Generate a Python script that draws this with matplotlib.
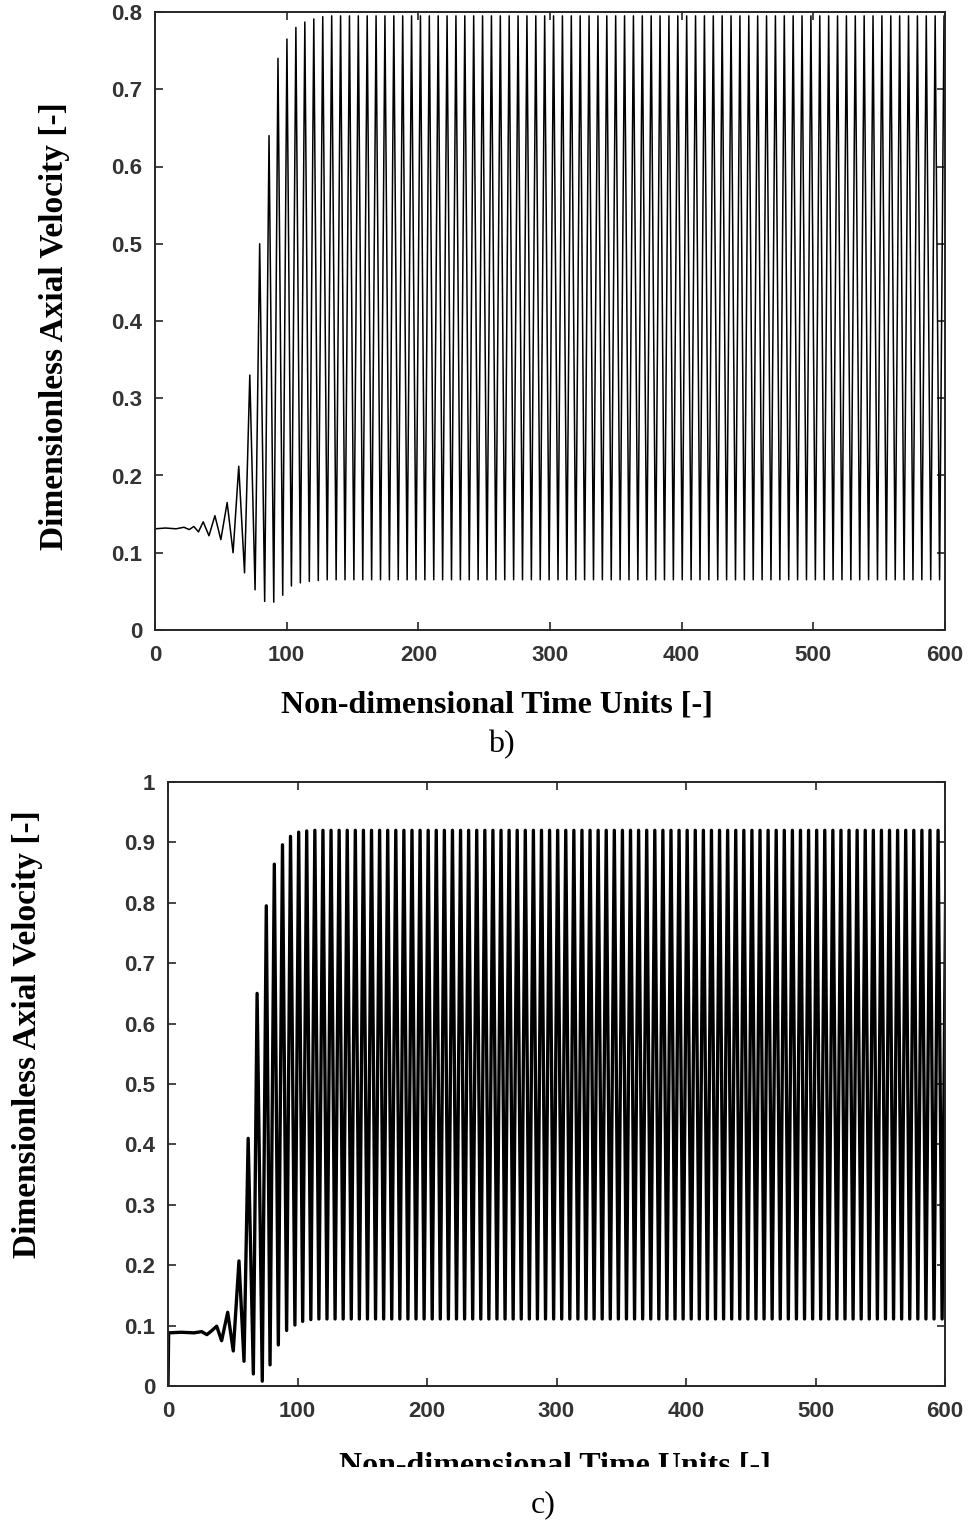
import numpy as np
import matplotlib
matplotlib.use('Agg')
import matplotlib.pyplot as plt
from matplotlib.patches import Rectangle

# ---- panel b): extremes of the signal (time, value)
b_t = [0, 8, 16, 22, 26, 29.5, 33, 36.6, 41, 45.5, 50, 54.8, 59.3, 63.6, 68,
       72, 76, 79.5, 83.3, 86.6, 90.2, 93.4, 97, 100.2, 103.6, 107, 110.4,
       113.8, 117.2, 120.6, 124, 127.4, 130.8]
b_v = [0.131, 0.132, 0.131, 0.133, 0.130, 0.134, 0.127, 0.140, 0.122, 0.148,
       0.117, 0.165, 0.100, 0.212, 0.074, 0.330, 0.052, 0.500, 0.037, 0.640,
       0.036, 0.740, 0.045, 0.765, 0.057, 0.780, 0.061, 0.787, 0.063, 0.791,
       0.064, 0.794, 0.065]
# limit cycle after the growth phase
b_start, b_period, b_high, b_low = 134.2, 6.74, 0.795, 0.065

# ---- panel c)
c_t = [0, 0.5, 10, 20, 26, 30, 34, 37.6, 41.4, 46.1, 50.4, 54.8, 58.7, 61.9,
       65.9, 68.8, 72.8, 75.9, 78.8, 82.1, 85.2, 88.4, 91.6, 94.6, 98, 100.9,
       104, 107.1, 110.3]
c_v = [0.0, 0.088, 0.089, 0.088, 0.090, 0.085, 0.092, 0.099, 0.075, 0.122,
       0.058, 0.207, 0.041, 0.410, 0.020, 0.650, 0.008, 0.795, 0.035, 0.864,
       0.068, 0.896, 0.092, 0.910, 0.101, 0.917, 0.107, 0.919, 0.110]
c_start, c_period, c_high, c_low = 113.4, 6.25, 0.920, 0.111

b_yticks = [0, 0.1, 0.2, 0.3, 0.4, 0.5, 0.6, 0.7, 0.8]
c_yticks = [0, 0.1, 0.2, 0.3, 0.4, 0.5, 0.6, 0.7, 0.8, 0.9, 1]
xticks = [0, 100, 200, 300, 400, 500, 600]


def full_series(t, v, start, period, high, low, end=606):
    # append the steady oscillation: alternating peak / trough every half period
    tt = list(t)
    vv = list(v)
    k = 0
    while start + k * period / 2 < end:
        tt.append(start + k * period / 2)
        vv.append(high if k % 2 == 0 else low)
        k += 1
    return tt, vv


W, H = 968, 1522
fig = plt.figure(figsize=(W / 100, H / 100), dpi=100)

spine_c = '#262626'
tick_font = {'family': 'Liberation Sans', 'weight': 'bold', 'size': 16}


def px_axes(l, r, t, b):
    return fig.add_axes([l / W, 1 - b / H, (r - l) / W, (b - t) / H])


def style(ax, yticks, ymax):
    ax.set_xlim(0, 600)
    ax.set_ylim(0, ymax)
    ax.set_xticks(xticks)
    ax.set_xticklabels([str(x) for x in xticks])
    ax.set_yticks(yticks)
    ax.set_yticklabels(['%g' % y for y in yticks])
    for s in ax.spines.values():
        s.set_color(spine_c)
        s.set_linewidth(1.4)
    ax.tick_params(direction='in', length=6, width=1.2, color=spine_c,
                   top=True, right=True, labelcolor='#333333')
    ax.tick_params(axis='x', pad=11)
    ax.tick_params(axis='y', pad=9)
    for lab in ax.get_xticklabels() + ax.get_yticklabels():
        lab.set_fontproperties(matplotlib.font_manager.FontProperties(**tick_font))


ax1 = px_axes(155, 945, 12, 630)
tb, vb = full_series(b_t, b_v, b_start, b_period, b_high, b_low)
ax1.plot(tb, vb, color='k', lw=1.1)
style(ax1, b_yticks, 0.8)

ax2 = px_axes(168, 945, 782, 1386)
tc, vc = full_series(c_t, c_v, c_start, c_period, c_high, c_low)
ax2.plot(tc, vc, color='k', lw=2.4)
style(ax2, c_yticks, 1.0)

# labels
ylab = dict(family='Liberation Serif', weight='bold', size=24, color='black')
xlab = dict(family='Liberation Serif', weight='bold', size=23, color='black')
fig.text(55 / W, 1 - 326 / H, 'Dimensionless Axial Velocity [-]', rotation=90,
         ha='center', va='center', **ylab)
fig.text(28 / W, 1 - 1034 / H, 'Dimensionless Axial Velocity [-]', rotation=90,
         ha='center', va='center', **ylab)
fig.text(497 / W, 1 - 713 / H, 'Non-dimensional Time Units [-]',
         ha='center', va='baseline', **xlab)
fig.text(555 / W, 1 - 1473 / H, 'Non-dimensional Time Units [-]',
         ha='center', va='baseline', **xlab)
# the lower label is cut off in the original
fig.add_artist(Rectangle((300 / W, 1 - 1485 / H), 520 / W, 18 / H,
                         transform=fig.transFigure, facecolor='white',
                         edgecolor='none', zorder=10))

fig.text(501 / W, 1 - 752 / H, 'b)', ha='center', va='baseline',
         family='Liberation Serif', size=23)
fig.text(543 / W, 1 - 1512 / H, 'c)', ha='center', va='baseline',
         family='Liberation Serif', size=23)

fig.savefig('out.png', dpi=100)
